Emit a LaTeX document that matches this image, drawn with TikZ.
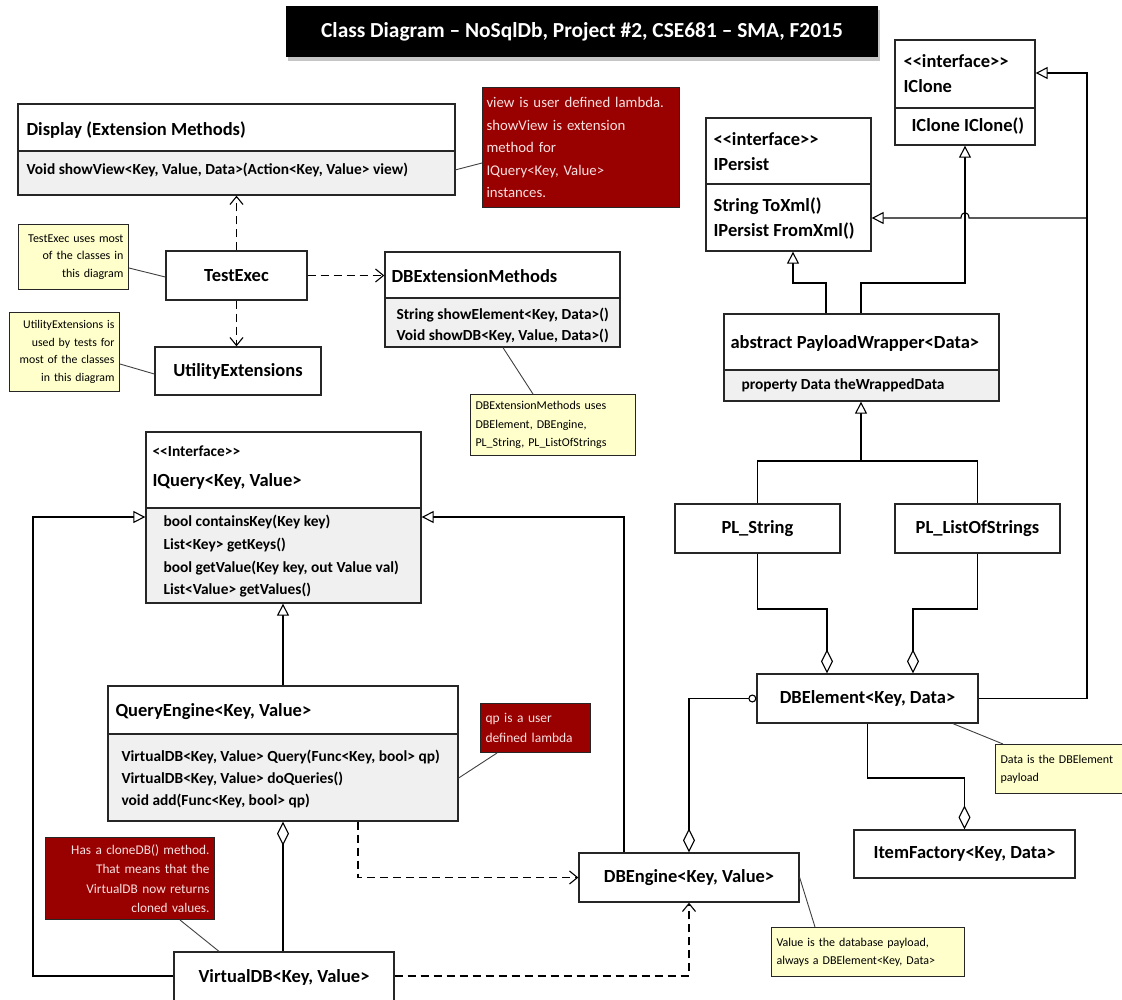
\documentclass[tikz,border=0pt]{standalone}
\usepackage{fontspec}
\setmainfont{Carlito}[Ligatures=TeXOff]
\usetikzlibrary{arrows.meta,shadows}
\definecolor{notered}{HTML}{990000}
\definecolor{noteyel}{HTML}{FFFFCC}
\definecolor{bodygray}{HTML}{F0F0F0}
\definecolor{notetxt}{HTML}{F8E0E0}
\begin{document}
\begin{tikzpicture}[x=1pt,y=-1pt,line width=1.1pt,
  cls/.style={draw=black!85,line width=1.3pt,rectangle,inner sep=0pt},
  ttl/.style={font=\bfseries\fontsize{18.5}{22}\selectfont,anchor=west,inner sep=0pt},
  mth/.style={font=\bfseries\fontsize{15.4}{18}\selectfont,anchor=west,inner sep=0pt},
  cname/.style={font=\bfseries\fontsize{18.5}{22}\selectfont},
  rnote/.style={draw=black!85,line width=1pt,fill=notered,text=notetxt,anchor=north west,inner sep=5pt},
  ynote/.style={draw=black!85,line width=1pt,fill=noteyel,anchor=north west,inner sep=5pt},
  nline/.style={draw=black!75,line width=0.9pt},
  gen/.style={-{Triangle[fill=white,length=12pt,width=12pt,line width=1.1pt]}},
  dep/.style={dash pattern=on 8pt off 5pt,-{Straight Barb[length=8pt,width=13pt,line width=1.1pt]}},
  aggr/.style={{Diamond[fill=white,length=24pt,width=12pt,line width=1.1pt]}-},
]
\useasboundingbox (0,0) rectangle (1122,999);
\fill[white] (0,0) rectangle (1122,999);

% ---------- title ----------
\node[fill=black,minimum width=592,minimum height=51,text=white,
      font=\bfseries\fontsize{21.4}{25}\selectfont,
      drop shadow={shadow xshift=2pt,shadow yshift=-4pt,opacity=0.45}]
  (title) at (582,31.5) {Class Diagram – NoSqlDb, Project \#2, CSE681 – SMA, F2015};

% ---------- Display ----------
\fill[bodygray] (18,151) rectangle (455,195);
\node[cls,minimum width=437,minimum height=91] (display) at (236.5,149.5) {};
\draw[cls] (18,151) -- (455,151);
\node[ttl] at (26,130) {Display (Extension Methods)};
\node[mth] at (26,170) {Void showView<Key, Value, Data>(Action<Key, Value> view)};

\node[rnote,minimum width=197,minimum height=120,text width=189pt,align=left,inner xsep=4pt,
      font=\fontsize{14.8}{22.5}\selectfont] (rednote) at (482,87)
  {view is user defined lambda.\\showView is extension\\method for\\IQuery<Key, Value>\\instances.};
\draw[nline] (455,170) -- (rednote.west |- 0,163);

% ---------- TestExec / Utility ----------
\node[cls,minimum width=141,minimum height=49,cname] (testexec) at (236.5,275.5) {TestExec};
\node[cls,minimum width=166,minimum height=48,cname] (utility) at (238,371) {UtilityExtensions};

\node[ynote,minimum width=110,minimum height=65,text width=100pt,align=right,
      font=\fontsize{12}{17.5}\selectfont] (testnote) at (18,224)
  {TestExec uses most\\of the classes in\\this diagram};
\node[ynote,minimum width=110,minimum height=79,text width=100pt,align=right,
      font=\fontsize{11.8}{17.5}\selectfont] (utilnote) at (9,312)
  {UtilityExtensions is\\used by tests for\\most of the classes\\in this diagram};
\draw[nline] (testnote.east |- 0,268) -- (testexec.west |- 0,277);
\draw[nline] (utilnote.east |- 0,364) -- (utility.west |- 0,374);

% ---------- DBExtensionMethods ----------
\fill[bodygray] (385,298) rectangle (620,347);
\node[cls,minimum width=235,minimum height=95] (dbext) at (502.5,299.5) {};
\draw[cls] (385,298) -- (620,298);
\node[ttl] at (391,276) {DBExtensionMethods};
\node[mth] at (396,315) {String showElement<Key, Data>()};
\node[mth] at (396,336) {Void showDB<Key, Value, Data>()};

\node[ynote,minimum width=165,minimum height=61,text width=155pt,align=left,
      font=\fontsize{12}{18.5}\selectfont] (dbextnote) at (470,394)
  {DBExtensionMethods uses\\DBElement, DBEngine,\\PL\_String, PL\_ListOfStrings};
\draw[nline] (503,0 |- dbext.south) -- (533,0 |- dbextnote.north);

\draw[dep] (testexec.north) -- (display.south);
\draw[dep] (testexec.south) -- (testexec.south |- utility.north);
\draw[dep] (testexec.east) -- (dbext.west |- testexec.east);

% ---------- IClone / IPersist / PayloadWrapper ----------
\node[cls,minimum width=140,minimum height=105] (iclone) at (965,92.5) {};
\draw[cls] (895,108) -- (1035,108);
\node[ttl] at (903,61) {<<interface>>};
\node[ttl] at (903,86) {IClone};
\node[ttl] at (911,126) {IClone IClone()};

\node[cls,minimum width=165,minimum height=133] (ipersist) at (788.5,184.5) {};
\draw[cls] (706,184) -- (871,184);
\node[ttl] at (713,139) {<<interface>>};
\node[ttl] at (713,164) {IPersist};
\node[ttl] at (713,206) {String ToXml()};
\node[ttl] at (713,231) {IPersist FromXml()};

\fill[bodygray] (724,370) rectangle (999,401);
\node[cls,minimum width=275,minimum height=87] (pw) at (861.5,357.5) {};
\draw[cls] (724,370) -- (999,370);
\node[ttl] at (730,343) {abstract PayloadWrapper<Data>};
\node[mth] at (741,385) {property Data theWrappedData};

\draw[gen] (826,0 |- pw.north) -- (826,283) -- (793,283) -- (793,0 |- ipersist.south);
\draw[gen] (861,0 |- pw.north) -- (861,283) -- (965,283) -- (965,0 |- iclone.south);

% ---------- payload types ----------
\node[cls,minimum width=165,minimum height=49,cname] (plstr) at (757.5,528.5) {PL\_String};
\node[cls,minimum width=165,minimum height=49,cname] (pllist) at (977.5,528.5) {PL\_ListOfStrings};
\coordinate (pljoin) at (861,461);
\draw (plstr.north) |- (pljoin) -| (pllist.north);
\draw[gen] (pljoin) -- (pljoin |- pw.south);

% ---------- DBElement / ItemFactory ----------
\node[cls,minimum width=221,minimum height=49,cname] (dbelem) at (867.5,698.5) {DBElement<Key, Data>};
\node[cls,minimum width=221,minimum height=48,cname] (itemf) at (964.5,854) {ItemFactory<Key, Data>};

\draw[aggr] (827,0 |- dbelem.north) -- (827,609) -| (plstr.south);
\draw[aggr] (913,0 |- dbelem.north) -- (913,609) -| (pllist.south);
\draw[gen] (dbelem.east) -- (1087,0 |- dbelem.east) -- (1087,73) -- (iclone.east |- 0,73);
\draw[gen] (1087,218) -- (969,218) .. controls (969,211) and (961,211) .. (961,218) -- (ipersist.east |- 0,218);
\draw[aggr] (itemf.north) -- (itemf.north |- 0,778) -- (dbelem.south |- 0,778) -- (dbelem.south);

\node[ynote,minimum width=127,minimum height=49,text width=117pt,align=left,
      font=\fontsize{12}{18}\selectfont] (datanote) at (995,744)
  {Data is the DBElement\\payload};
\draw[nline] (953,0 |- dbelem.south) -- (1003,0 |- datanote.north);

% ---------- IQuery / QueryEngine ----------
\fill[bodygray] (146,508) rectangle (421,603);
\node[cls,minimum width=275,minimum height=171] (iquery) at (283.5,517.5) {};
\draw[cls] (146,508) -- (421,508);
\node[mth] at (152,451) {<<Interface>>};
\node[ttl] at (152,481) {IQuery<Key, Value>};
\node[mth] at (163,522) {bool containsKey(Key key)};
\node[mth] at (163,545) {List<Key> getKeys()};
\node[mth] at (163,568) {bool getValue(Key key, out Value val)};
\node[mth] at (163,590) {List<Value> getValues()};

\fill[bodygray] (108,734) rectangle (458,821);
\node[cls,minimum width=350,minimum height=135] (qe) at (283,753.5) {};
\draw[cls] (108,734) -- (458,734);
\node[ttl] at (115,712) {QueryEngine<Key, Value>};
\node[mth] at (121,757) {VirtualDB<Key, Value> Query(Func<Key, bool> qp)};
\node[mth] at (121,779) {VirtualDB<Key, Value> doQueries()};
\node[mth] at (121,801) {void add(Func<Key, bool> qp)};

\node[rnote,minimum width=110,minimum height=49,text width=100pt,align=left,
      font=\fontsize{13.5}{20}\selectfont] (qpnote) at (480,703)
  {qp is a user\\defined lambda};
\draw[nline] (qe.east |- 0,778) -- (497,0 |- qpnote.south);

\draw[gen] (qe.north) -- (qe.north |- iquery.south);

% ---------- VirtualDB / DBEngine ----------
\node[cls,minimum width=220,minimum height=54] (vdb) at (284,979) {};
\node[cname] at (284,977) {VirtualDB<Key, Value>};
\node[cls,minimum width=220,minimum height=49,cname] (dbengine) at (689,877.5) {DBEngine<Key, Value>};

\node[rnote,minimum width=169,minimum height=82,text width=159pt,align=right,
      font=\fontsize{13.3}{19.5}\selectfont] (vdbnote) at (45,837)
  {Has a cloneDB() method.\\That means that the\\VirtualDB now returns\\cloned values.};
\draw[nline] (180,0 |- vdbnote.south) -- (219,0 |- vdb.north);

\node[ynote,minimum width=193,minimum height=49,text width=183pt,align=left,
      font=\fontsize{12}{18}\selectfont] (valnote) at (771,927)
  {Value is the database payload,\\always a DBElement<Key, Data>};
\draw[nline] (dbengine.east) -- (815,0 |- valnote.north);

\draw[aggr] (qe.south) -- (qe.south |- vdb.north);
\draw[gen] (vdb.west |- 0,976) -- (33,976) -- (33,517) -- (iquery.west |- 0,517);
\draw[gen] (624,0 |- dbengine.north) -- (624,517) -- (iquery.east |- 0,517);
\draw[dep] (358,0 |- qe.south) |- (dbengine.west);
\draw[dep] (vdb.east |- 0,976) -| (dbengine.south);
\draw[{Diamond[fill=white,length=24pt,width=12pt,line width=1.1pt]}-{Circle[fill=white,length=8pt,line width=1.1pt]}]
  (dbengine.north) |- (dbelem.west);
\end{tikzpicture}
\end{document}
